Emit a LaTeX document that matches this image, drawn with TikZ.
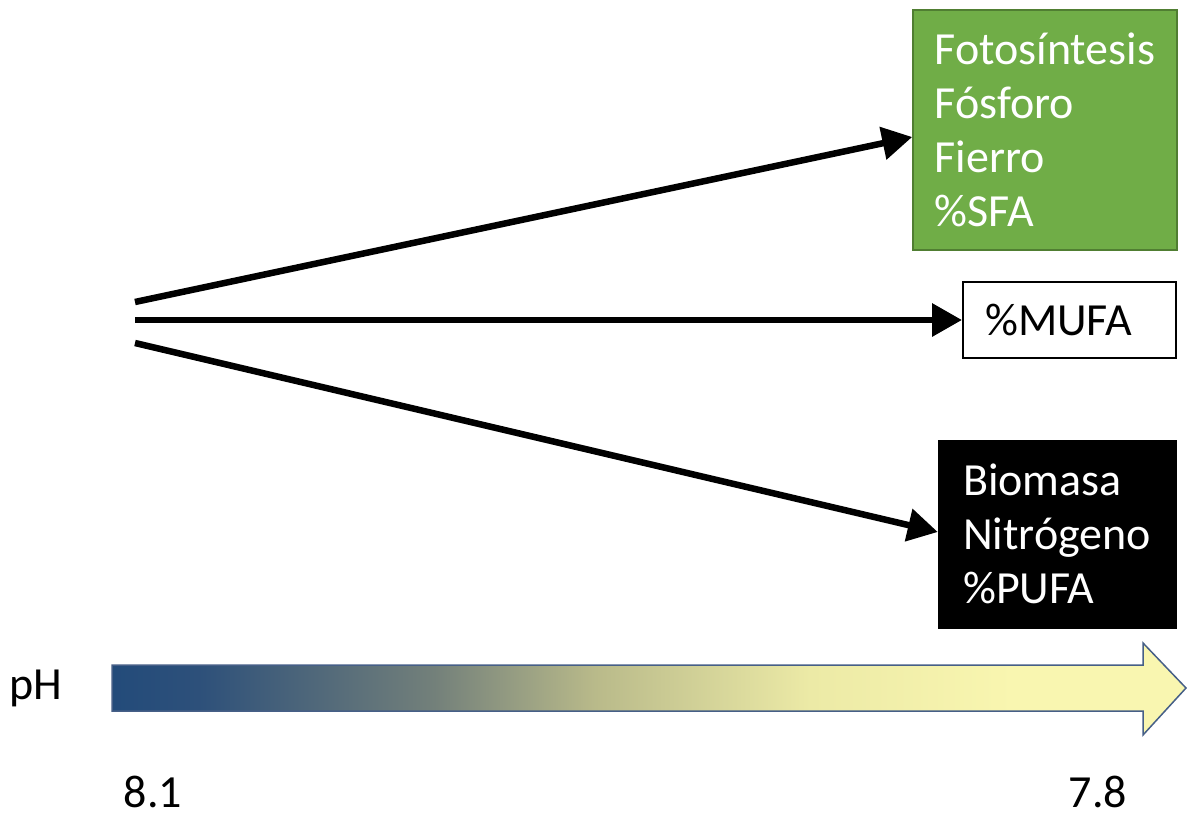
\documentclass[tikz,border=0pt]{standalone}
\usepackage{fontspec}
\setmainfont{Carlito}
\usetikzlibrary{arrows.meta}
\definecolor{officegreen}{RGB}{112,173,71}
\definecolor{greenedge}{RGB}{80,126,50}
\definecolor{phA}{RGB}{35,75,122}
\definecolor{phB}{RGB}{45,80,122}
\definecolor{phC}{RGB}{115,128,122}
\definecolor{phD}{RGB}{185,186,138}
\definecolor{phE}{RGB}{236,234,166}
\definecolor{phF}{RGB}{249,246,176}
\definecolor{phedge}{RGB}{70,95,135}
\pgfdeclarehorizontalshading{phshade}{100bp}{color(0bp)=(phA); color(25bp)=(phA); color(29bp)=(phB); color(40bp)=(phC); color(47.5bp)=(phD); color(57.5bp)=(phE); color(67bp)=(phF); color(75bp)=(phF); color(100bp)=(phF)}
\tikzset{
  bigtext/.style={font=\fontsize{46}{54}\selectfont},
  conn/.style={line width=6.5pt,-{Triangle[length=30pt,width=32pt]}},
  boxshape/.style={rectangle,bigtext,align=left,inner sep=0pt},
}
\begin{document}
\begin{tikzpicture}[x=1pt,y=-1pt]
\useasboundingbox (0,0) rectangle (1187,816);
% boxes
\node[boxshape,fill=officegreen,draw=greenedge,line width=1.5pt,text=white,
      minimum width=264pt,minimum height=240pt] (g) at (1045,130)
  {Fotosíntesis\\Fósforo\\Fierro\\\%SFA};
\node[boxshape,fill=white,draw=black,line width=2pt,text=black,
      minimum width=213pt,minimum height=76pt] (m) at (1069.5,320) {};
\node[bigtext,anchor=west,inner sep=0pt] (mt) at (985,320) {\%MUFA};
\node[boxshape,fill=black,draw=black,text=white,
      minimum width=238pt,minimum height=188pt] (b) at (1057,534)
  {Biomasa\\Nitrógeno\\\%PUFA};
% start points
\coordinate (s1) at (135,302);
\coordinate (s2) at (135,320);
\coordinate (s3) at (135,343);
\draw[conn] (s1) -- ([yshift=-7pt]g.west);
\draw[conn] (s2) -- (m.west);
\draw[conn] (s3) -- ([yshift=2pt]b.west);
% pH arrow
\path[shading=phshade,draw=phedge,line width=1.5pt]
  (112,665) -- (1143,665) -- (1143,643) -- (1186,688) -- (1143,735)
  -- (1143,711) -- (112,711) -- cycle;
\node[bigtext,inner sep=0pt] (ph) at (36,688) {pH};
\node[bigtext,inner sep=0pt,anchor=base] (v1) at (153,807) {8.1};
\node[bigtext,inner sep=0pt,anchor=base] (v2) at (1098,807) {7.8};
\end{tikzpicture}
\end{document}
